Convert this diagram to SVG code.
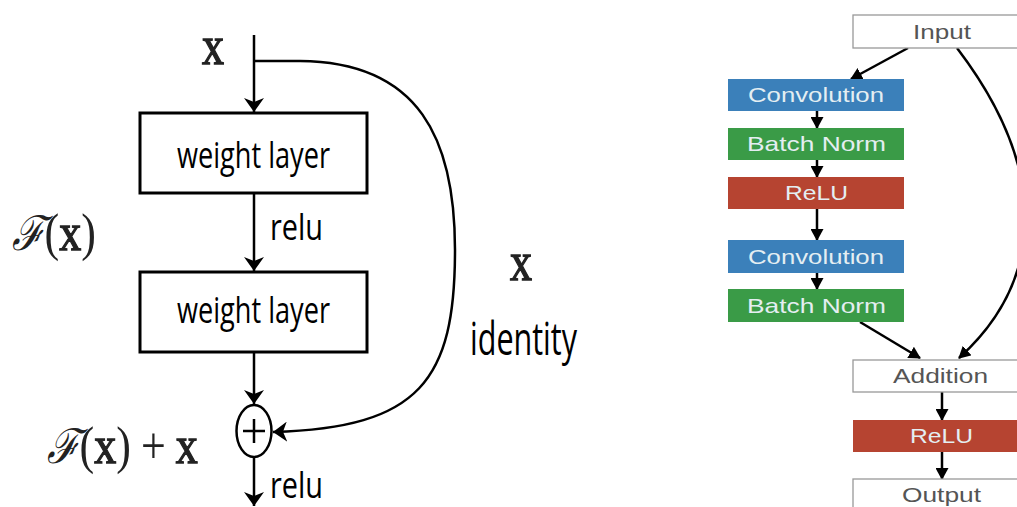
<svg xmlns="http://www.w3.org/2000/svg" width="1017" height="507" viewBox="0 0 1017 507">
  <style>
    .box { fill: #fff; stroke: #000; stroke-width: 3; }
    .wire { fill: none; stroke: #000; stroke-width: 2.5; }
    .lbl { font-family: "Open Sans", "Liberation Sans", sans-serif; font-size: 36px; fill: #000; }
    .tall { font-size: 45px; }
    .math { font-family: "Liberation Serif", "DejaVu Serif", serif; font-size: 44px; fill: #222; }
    .bx { stroke: #222; stroke-width: 1.1; }
    .cal { font-family: "DejaVu Serif", "Liberation Serif", serif; font-style: italic; font-size: 40px; fill: #222; }
    .rwhite { fill: #fff; stroke: #999; stroke-width: 1.3; }
    .rtxt { font-family: "Liberation Sans", "DejaVu Sans", sans-serif; font-size: 21px; }
    .dark { fill: #555; }
    .light { fill: #e4eef2; }
    .rwire { fill: none; stroke: #000; stroke-width: 2.5; }
  </style>
  <defs>
    <marker id="big" viewBox="0 0 14 20" refX="14" refY="10" markerWidth="14" markerHeight="20" markerUnits="userSpaceOnUse" orient="auto">
      <path d="M0,0 L14,10 L0,20 L4,10 Z" fill="#000"/>
    </marker>
    <marker id="small" viewBox="0 0 12 13" refX="11" refY="6.5" markerWidth="12" markerHeight="13" markerUnits="userSpaceOnUse" orient="auto">
      <path d="M0,0 L12,6.5 L0,13 Z" fill="#000"/>
    </marker>
  </defs>

  <!-- residual block, left -->
  <g id="connectors-left">
    <line class="wire" x1="254" y1="35" x2="254" y2="112" marker-end="url(#big)"/>
    <line class="wire" x1="254" y1="193" x2="254" y2="271" marker-end="url(#big)"/>
    <line class="wire" x1="254" y1="352" x2="254" y2="404" marker-end="url(#big)"/>
    <line class="wire" x1="254" y1="458" x2="254" y2="506" marker-end="url(#big)"/>
    <path class="wire" d="M254,61 L300,61 C420,62 455,140 455,250 C455,380 420,428 273,432" marker-end="url(#big)"/>
  </g>

  <g id="input-x">
    <text class="math bx" transform="translate(202,64) scale(1,1.25)">x</text>
  </g>

  <g id="weight-layer-1">
    <rect class="box" x="140" y="113" width="227" height="80"/>
    <text class="lbl" x="177" y="168" textLength="153" lengthAdjust="spacingAndGlyphs">weight layer</text>
  </g>

  <g id="relu-1">
    <text class="lbl" x="270" y="240" textLength="53" lengthAdjust="spacingAndGlyphs">relu</text>
  </g>

  <g id="weight-layer-2">
    <rect class="box" x="140" y="272" width="227" height="80"/>
    <text class="lbl" x="177" y="323" textLength="153" lengthAdjust="spacingAndGlyphs">weight layer</text>
  </g>

  <g id="sum">
    <ellipse cx="254" cy="431" rx="17.5" ry="26" fill="#fff" stroke="#000" stroke-width="2.5"/>
    <line x1="243" y1="431" x2="265" y2="431" stroke="#000" stroke-width="2.5"/>
    <line x1="254" y1="419" x2="254" y2="443" stroke="#000" stroke-width="2.5"/>
  </g>

  <g id="relu-2">
    <text class="lbl" x="270" y="498" textLength="53" lengthAdjust="spacingAndGlyphs">relu</text>
  </g>

  <g id="fx">
    <text transform="translate(12,250) scale(1,1.2)"><tspan class="cal">ℱ</tspan><tspan class="math">(</tspan><tspan class="math bx">x</tspan><tspan class="math">)</tspan></text>
  </g>

  <g id="fx-plus-x">
    <text transform="translate(47,463) scale(1,1.2)"><tspan class="cal">ℱ</tspan><tspan class="math">(</tspan><tspan class="math bx">x</tspan><tspan class="math">)</tspan><tspan class="math" dx="10">+</tspan><tspan class="math bx" dx="10">x</tspan></text>
  </g>

  <g id="identity">
    <text class="math bx" transform="translate(510,280) scale(1,1.25)">x</text>
    <text class="lbl tall" x="470" y="355" textLength="107" lengthAdjust="spacingAndGlyphs">identity</text>
  </g>

  <!-- ResNet block, right -->
  <g id="connectors-right">
    <line class="rwire" x1="908" y1="48" x2="851" y2="79" marker-end="url(#small)"/>
    <line class="rwire" x1="817" y1="111" x2="817" y2="128" marker-end="url(#small)"/>
    <line class="rwire" x1="817" y1="160" x2="817" y2="177" marker-end="url(#small)"/>
    <line class="rwire" x1="817" y1="209" x2="817" y2="240" marker-end="url(#small)"/>
    <line class="rwire" x1="817" y1="273" x2="817" y2="289" marker-end="url(#small)"/>
    <line class="rwire" x1="860" y1="322" x2="920" y2="358" marker-end="url(#small)"/>
    <path class="rwire" d="M957,48 C1050,170 1045,280 959,358" marker-end="url(#small)"/>
    <line class="rwire" x1="942" y1="392" x2="942" y2="420" marker-end="url(#small)"/>
    <line class="rwire" x1="942" y1="452" x2="942" y2="479" marker-end="url(#small)"/>
  </g>

  <g id="input">
    <rect class="rwhite" x="853" y="15" width="176" height="33"/>
    <text class="rtxt dark" x="913" y="39" textLength="58" lengthAdjust="spacingAndGlyphs">Input</text>
  </g>

  <g id="conv-1">
    <rect x="728" y="79" width="176" height="32" fill="#3b80ba"/>
    <text class="rtxt light" x="748" y="102" textLength="136" lengthAdjust="spacingAndGlyphs">Convolution</text>
  </g>

  <g id="bn-1">
    <rect x="728" y="128" width="176" height="32" fill="#3a9b47"/>
    <text class="rtxt light" x="747" y="151" textLength="139" lengthAdjust="spacingAndGlyphs">Batch Norm</text>
  </g>

  <g id="relu-r1">
    <rect x="728" y="177" width="176" height="32" fill="#b64431"/>
    <text class="rtxt light" x="785" y="200" textLength="63" lengthAdjust="spacingAndGlyphs">ReLU</text>
  </g>

  <g id="conv-2">
    <rect x="728" y="240" width="176" height="33" fill="#3b80ba"/>
    <text class="rtxt light" x="748" y="264" textLength="136" lengthAdjust="spacingAndGlyphs">Convolution</text>
  </g>

  <g id="bn-2">
    <rect x="728" y="289" width="176" height="33" fill="#3a9b47"/>
    <text class="rtxt light" x="747" y="313" textLength="139" lengthAdjust="spacingAndGlyphs">Batch Norm</text>
  </g>

  <g id="addition">
    <rect class="rwhite" x="853" y="360" width="176" height="32"/>
    <text class="rtxt dark" x="893" y="383" textLength="95" lengthAdjust="spacingAndGlyphs">Addition</text>
  </g>

  <g id="relu-r2">
    <rect x="853" y="420" width="176" height="32" fill="#b64431"/>
    <text class="rtxt light" x="910" y="443" textLength="63" lengthAdjust="spacingAndGlyphs">ReLU</text>
  </g>

  <g id="output">
    <rect class="rwhite" x="853" y="479" width="176" height="40"/>
    <text class="rtxt dark" x="902" y="502" textLength="79" lengthAdjust="spacingAndGlyphs">Output</text>
  </g>
</svg>
